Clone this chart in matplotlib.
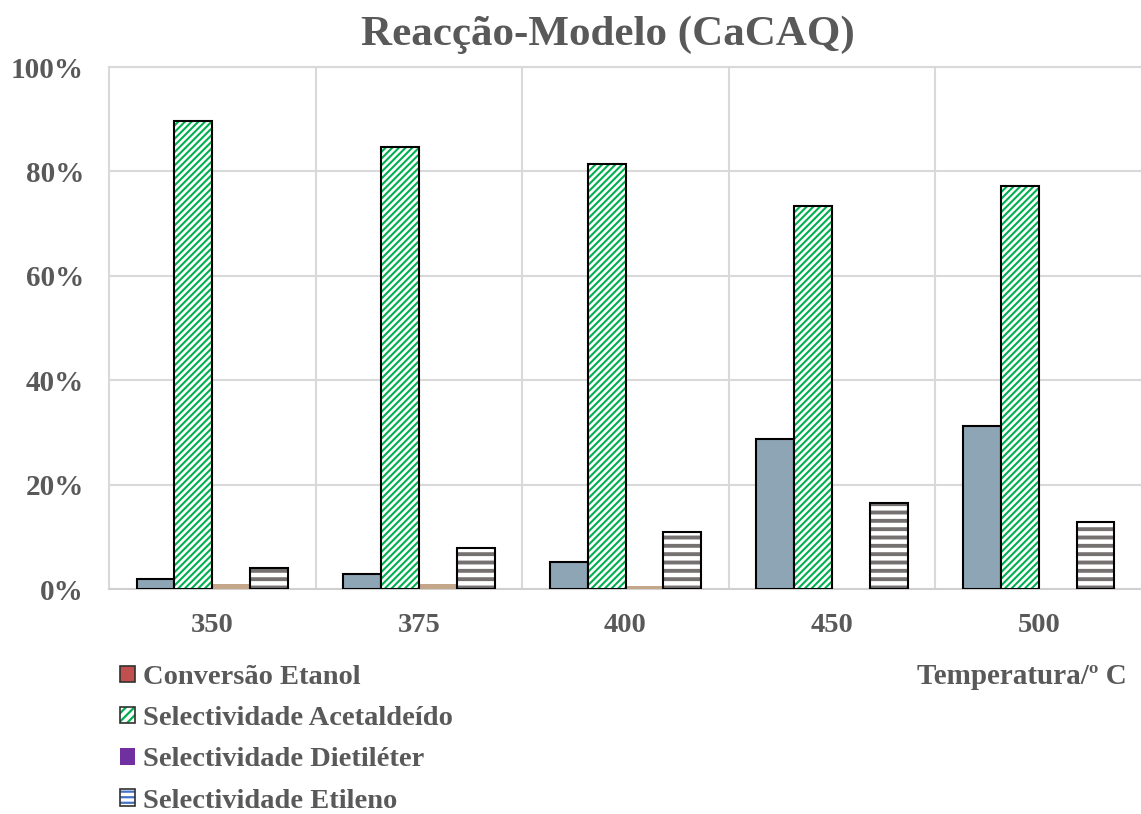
import matplotlib
matplotlib.use("Agg")
import matplotlib.pyplot as plt
import numpy as np
from matplotlib.patches import Patch
from matplotlib.legend_handler import HandlerTuple
from matplotlib.ticker import FuncFormatter

categories = ["350", "375", "400", "450", "500"]
conversao_etanol = [1.9, 2.9, 5.2, 28.7, 31.2]
sel_acetaldeido = [89.6, 84.6, 81.4, 73.3, 77.2]
sel_dietileter = [0.9, 1.0, 0.6, 0.0, 0.0]
sel_etileno = [4.0, 7.9, 10.9, 16.5, 12.9]
series_names = ["Conversão Etanol", "Selectividade Acetaldeído",
                "Selectividade Dietiléter", "Selectividade Etileno"]

TXT = "#595959"
FONT = "Liberation Serif"
plt.rcParams["font.family"] = [FONT, "DejaVu Serif"]
plt.rcParams["font.weight"] = "bold"
plt.rcParams["hatch.linewidth"] = 1.6

fig = plt.figure(figsize=(11.41, 8.14), dpi=100)
ax = fig.add_axes([109/1141, 225/814, 1033/1141, 522/814])

x = np.arange(len(categories))
w = 0.183

def set_hlw(container, lw):
    for p in container:
        if hasattr(p, "set_hatch_linewidth"):
            p.set_hatch_linewidth(lw)

b1 = ax.bar(x - 1.5*w, conversao_etanol, w, color="#8ea5b5", edgecolor="black", linewidth=1.5, zorder=3)
b2 = ax.bar(x - 0.5*w, sel_acetaldeido, w, color="white", edgecolor="#00b050", hatch="/////", linewidth=0, zorder=3)
set_hlw(b2, 1.5)
ax.bar(x - 0.5*w, sel_acetaldeido, w, color="none", edgecolor="black", linewidth=1.5, zorder=4)
b3 = ax.bar(x + 0.5*w, sel_dietileter, w, color="#c4a78a", edgecolor="none", linewidth=0, zorder=3)
b4 = ax.bar(x + 1.5*w, sel_etileno, w, color="white", edgecolor="#767171", hatch="--", linewidth=0, zorder=3)
set_hlw(b4, 2.8)
ax.bar(x + 1.5*w, sel_etileno, w, color="none", edgecolor="black", linewidth=1.5, zorder=4)

ax.set_xlim(-0.5, 4.5)
ax.set_ylim(0, 100)
ax.set_yticks(range(0, 101, 20))
ax.yaxis.set_major_formatter(FuncFormatter(lambda v, p: f"{int(v)}%"))
ax.set_xticks(x)
ax.set_xticklabels(categories)
ax.grid(axis="y", color="#d9d9d9", linewidth=1.5, zorder=0)
ax.set_xticks(np.arange(0.5, 4.5, 1), minor=True)
ax.grid(axis="x", which="minor", color="#d9d9d9", linewidth=1.5, zorder=0)
ax.tick_params(axis="both", which="both", length=0)
ax.tick_params(axis="y", pad=18, labelsize=21, labelcolor=TXT)
ax.tick_params(axis="x", pad=17, labelsize=20.5, labelcolor=TXT)
for lab in ax.get_xticklabels() + ax.get_yticklabels():
    lab.set_fontweight("bold")
for s in ["left", "top", "right"]:
    ax.spines[s].set_color("#d9d9d9")
    ax.spines[s].set_linewidth(1.5)
ax.spines["bottom"].set_color("#d0d0d0")
ax.spines["bottom"].set_linewidth(1.5)

fig.text(608/1141, 1 - 35/814, "Reacção-Modelo (CaCAQ)", ha="center", va="center",
         fontsize=31, fontweight="bold", color=TXT)
fig.text(1127/1141, 1 - 676/814, "Temperatura/º C", ha="right", va="center",
         fontsize=21, fontweight="bold", color=TXT)

h_green = Patch(facecolor="white", edgecolor="#00b050", hatch="////", linewidth=0)
h_blue = Patch(facecolor="white", edgecolor="#4472c4", hatch="---", linewidth=0)
if hasattr(h_green, "set_hatch_linewidth"):
    h_green.set_hatch_linewidth(1.5)
    h_blue.set_hatch_linewidth(1.2)
handles = [
    Patch(facecolor="#c0504d", edgecolor="#303030", linewidth=1.2),
    (h_green, Patch(facecolor="none", edgecolor="#303030", linewidth=1.2)),
    Patch(facecolor="#7030a0", edgecolor="none"),
    (h_blue, Patch(facecolor="none", edgecolor="#303030", linewidth=1.2)),
]
leg = fig.legend(handles, series_names, loc="upper left",
                 bbox_to_anchor=(120/1141, 1 - 665/814), frameon=False,
                 fontsize=20.5, handlelength=0.52, handleheight=0.52,
                 handletextpad=0.3, labelspacing=0.57, borderaxespad=0,
                 borderpad=0, handler_map={tuple: HandlerTuple(ndivide=1, pad=0)})
for t in leg.get_texts():
    t.set_color(TXT)
    t.set_fontweight("bold")

fig.savefig("out.png", dpi=100)
